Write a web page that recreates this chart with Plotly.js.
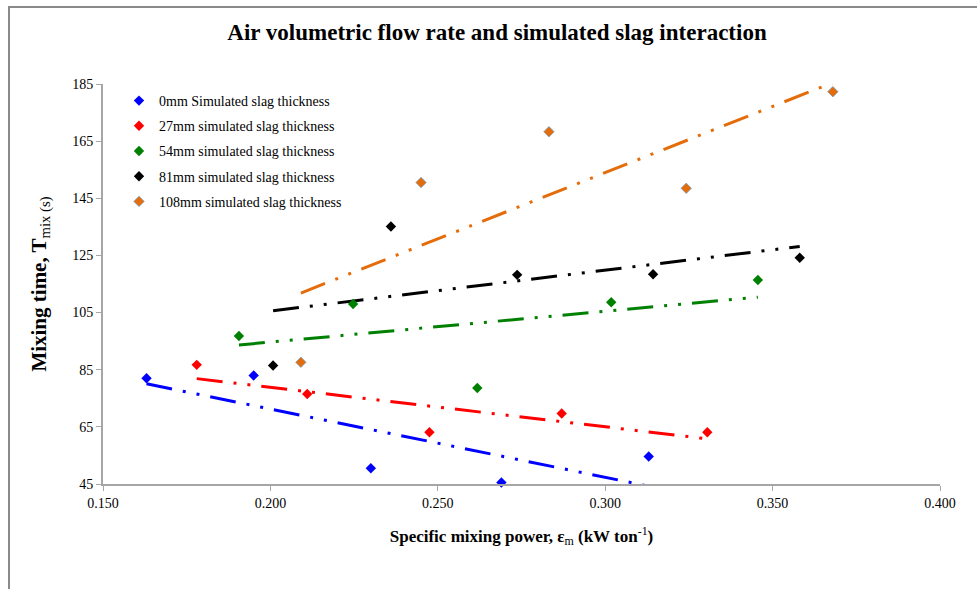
<!DOCTYPE html>
<html><head><meta charset="utf-8">
<script src="https://cdn.plot.ly/plotly-3.0.1.min.js"></script>
<style>
html,body{margin:0;padding:0;background:#fff;}
#wrap{position:relative;width:977px;height:589px;overflow:hidden;}
#chart{position:absolute;left:0;top:0;width:977px;height:589px;}
#frame{position:absolute;left:8px;top:6px;right:-5px;bottom:-5px;border-left:2px solid #8a8a8a;border-top:2px solid #8a8a8a;pointer-events:none;}
</style>
</head><body>
<div id="wrap"><div id="chart"></div><div id="frame"></div></div>
<script>
// ---- data ----
const seriesNames = [
  "0mm Simulated slag thickness",
  "27mm simulated slag thickness",
  "54mm simulated slag thickness",
  "81mm simulated slag thickness",
  "108mm simulated slag thickness"
];
const seriesColors = ["#0000FF", "#FF0000", "#008000", "#000000", "#E46C0A"];

const power0mm   = [0.163, 0.195, 0.230, 0.269, 0.313];
const time0mm    = [82.0, 83.0, 50.5, 45.5, 54.6];
const power27mm  = [0.178, 0.211, 0.2475, 0.287, 0.3305];
const time27mm   = [86.7, 76.5, 63.1, 69.7, 63.1];
const power54mm  = [0.1906, 0.2247, 0.2618, 0.3018, 0.3456];
const time54mm   = [96.8, 108.0, 78.6, 108.6, 116.4];
const power81mm  = [0.2008, 0.236, 0.2737, 0.3143, 0.3581];
const time81mm   = [86.5, 135.1, 118.2, 118.4, 124.2];
const power108mm = [0.2091, 0.245, 0.2832, 0.3242, 0.368];
const time108mm  = [87.6, 150.5, 168.3, 148.5, 182.3];

const xTickVals = [0.15, 0.2, 0.25, 0.3, 0.35, 0.4];
const yTickVals = [45, 65, 85, 105, 125, 145, 165, 185];

const xs = [power0mm, power27mm, power54mm, power81mm, power108mm];
const ys = [time0mm, time27mm, time54mm, time81mm, time108mm];

// linear least-squares trendline over the data range (like Excel's linear trendline)
function trend(x, y) {
  const n = x.length;
  const mx = x.reduce((a, b) => a + b, 0) / n;
  const my = y.reduce((a, b) => a + b, 0) / n;
  let sxy = 0, sxx = 0;
  for (let i = 0; i < n; i++) { sxy += (x[i] - mx) * (y[i] - my); sxx += (x[i] - mx) ** 2; }
  const m = sxy / sxx, c = my - m * mx;
  const xmin = Math.min(...x), xmax = Math.max(...x);
  return { x: [xmin, xmax], y: [m * xmin + c, m * xmax + c] };
}

const FONT = "Liberation Serif, Times New Roman, serif";
const traces = [];
for (let i = 0; i < 5; i++) {
  const t = trend(xs[i], ys[i]);
  traces.push({
    x: t.x, y: t.y, type: "scatter", mode: "lines",
    line: { color: seriesColors[i], width: 3, dash: "26px,11px,3px,11px,3px,11px" },
    showlegend: false, legendgroup: "g" + i, hoverinfo: "skip"
  });
}
for (let i = 0; i < 5; i++) {
  traces.push({
    x: xs[i], y: ys[i], type: "scatter", mode: "markers", name: seriesNames[i],
    legendgroup: "g" + i, cliponaxis: false,
    marker: { symbol: "diamond", size: 8, color: seriesColors[i],
      line: { width: i === 4 ? 1 : 0, color: "rgba(120,160,190,0.8)" } }
  });
}

const axisCommon = {
  showgrid: false, zeroline: false, showline: true, linecolor: "#a6a6a6", linewidth: 2,
  ticks: "outside", ticklen: 5, tickcolor: "#a6a6a6", tickwidth: 1,
  tickfont: { family: FONT, size: 14, color: "#000" }, mirror: false
};

const layout = {
  width: 977, height: 589,
  margin: { l: 103, r: 37, t: 84, b: 105 },
  paper_bgcolor: "#fff", plot_bgcolor: "#fff",
  font: { family: FONT, color: "#000" },
  title: { text: "<b>Air volumetric flow rate and simulated slag interaction</b>",
    font: { family: FONT, size: 23, color: "#000" },
    x: 497 / 977, xref: "container", xanchor: "center", y: 1 - 32 / 589, yref: "container", yanchor: "middle" },
  xaxis: Object.assign({}, axisCommon, {
    range: [0.15, 0.4], tickvals: xTickVals, tickformat: ".3f",
    title: { text: "<b>Specific mixing power, ε</b><sub>m</sub><b> (kW ton</b><sup>-1</sup><b>)</b>",
      font: { family: FONT, size: 17, color: "#000" }, standoff: 20 }
  }),
  yaxis: Object.assign({}, axisCommon, {
    range: [45, 185], tickvals: yTickVals,
    title: { text: "<b>Mixing time, T</b><sub>mix (s)</sub>",
      font: { family: FONT, size: 21, color: "#000" }, standoff: 20 }
  }),
  legend: {
    x: (119 - 103) / 837, xanchor: "left", y: 1 - (85 - 84) / 400, yanchor: "top",
    bgcolor: "rgba(0,0,0,0)", borderwidth: 0, itemwidth: 30, tracegroupgap: 4,
    font: { family: FONT, size: 14, color: "#000" }
  },
  showlegend: true
};

Plotly.newPlot("chart", traces, layout, { displayModeBar: false, staticPlot: true });
</script>
</body></html>
